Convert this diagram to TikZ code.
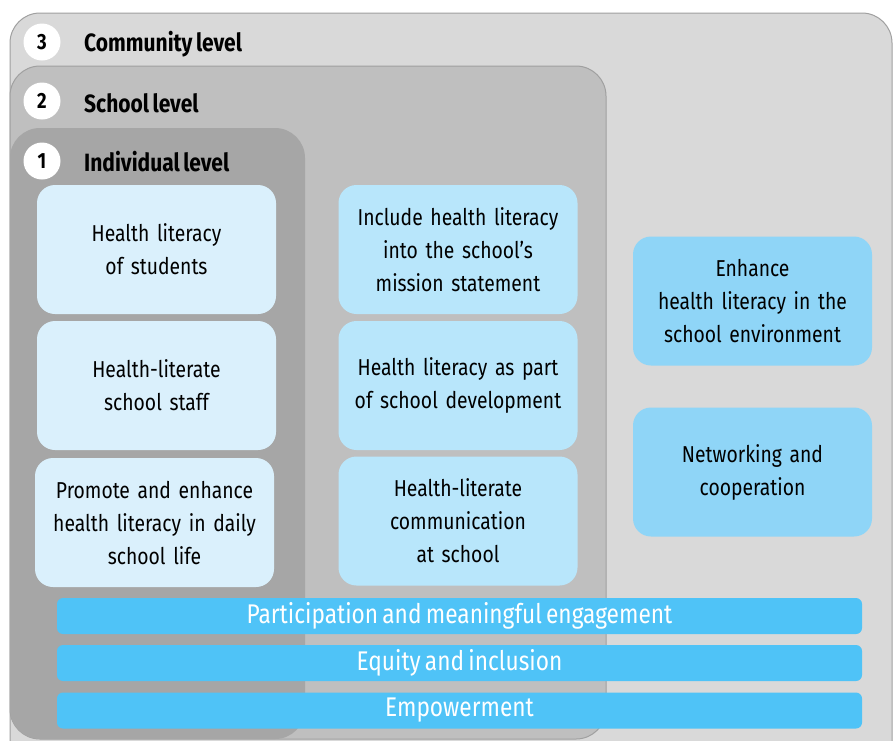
\documentclass[tikz,border=0pt]{standalone}
\usepackage{fontspec}
\setmainfont{Fira Sans}[FakeStretch=0.84, WordSpace=0.7]
\usepackage{tikz}
\usetikzlibrary{positioning}
\definecolor{hlcomm}{RGB}{217,217,217}
\definecolor{hlschool}{RGB}{191,191,191}
\definecolor{hlindiv}{RGB}{166,166,166}
\definecolor{hledge}{RGB}{160,160,160}
\definecolor{hlpale}{RGB}{218,240,252}
\definecolor{hlsoft}{RGB}{184,230,251}
\definecolor{hlmid}{RGB}{143,213,247}
\definecolor{hlbar}{RGB}{79,195,247}

\begin{document}
\begin{tikzpicture}[
  x=1pt, y=-1pt,
  every node/.style={font=\fontsize{23}{33}\selectfont},
  panel/.style={draw=hledge, line width=1pt, rounded corners=30pt},
  num/.style={circle, fill=white, minimum size=37pt, inner sep=0pt,
              font=\fontsize{22}{24}\selectfont\bfseries},
  head/.style={anchor=west, inner sep=0pt, font=\fontsize{25}{28}\selectfont\bfseries},
  card/.style={rectangle, rounded corners=18pt, minimum width=239pt,
               minimum height=129pt, text width=232pt, align=center, inner sep=0pt},
  bar/.style={rectangle, fill=hlbar, text=white, rounded corners=6pt,
              minimum width=805pt, minimum height=36pt, inner sep=0pt,
              font=\fontsize{27}{30}\selectfont},
]
\useasboundingbox (0,0) rectangle (893,740);
\clip (0,0) rectangle (893,740);

% Levels
\draw[panel, fill=hlcomm]   (10,13)  rectangle (892,800);
\draw[panel, fill=hlschool] (10,66)  rectangle (606,739);
\draw[panel, fill=hlindiv, draw=none] (10,128) rectangle (305,739);

\node[num] (n3) at (42,42)  {3};
\node[num] (n2) at (42,101) {2};
\node[num] (n1) at (42,161) {1};
\node[head] (community) at (84,44)  {Community level};
\node[head] (school)    at (84,103) {School level};
\node[head] (individual) at (84,162) {Individual level};

% Individual level
\node[card, fill=hlpale] (I1) at (156.5,249.5) {Health literacy\\of students};
\node[card, fill=hlpale] (I2) at (156.5,385.5) {Health-literate\\school staff};
\node[card, fill=hlpale] (I3) at (154.5,522.5) {Promote and enhance\\health literacy in daily\\school life};

% School level
\node[card, fill=hlsoft] (S1) at (458,249.5) {Include health literacy\\into the school’s\\mission statement};
\node[card, fill=hlsoft] (S2) at (458,385.5) {Health literacy as part\\of school development};
\node[card, fill=hlsoft] (S3) at (458,521)   {Health-literate\\communication\\at school};

% Community level
\node[card, fill=hlmid] (C1) at (752.5,301) {Enhance\\health literacy in the\\school environment};
\node[card, fill=hlmid] (C2) at (752.5,472) {Networking and\\cooperation};

% Principles
\node[bar] (B1) at (459.5,616)   {Participation and meaningful engagement};
\node[bar] (B2) at (459.5,663)   {Equity and inclusion};
\node[bar] (B3) at (459.5,710.5) {Empowerment};

\end{tikzpicture}
\end{document}
